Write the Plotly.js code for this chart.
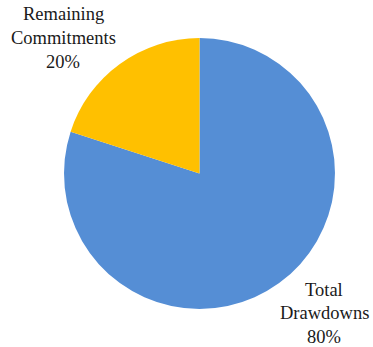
<!DOCTYPE html>
<html>
<head>
<meta charset="utf-8">
<script src="https://cdn.plot.ly/plotly-3.0.1.min.js"></script>
<style>html,body{margin:0;padding:0;background:#fff;}#chart{width:373px;height:347px;}</style>
</head>
<body>
<div id="chart"></div>
<script>
const categories = ["Total Drawdowns", "Remaining Commitments"];
const values = [80, 20];
const colors = ["#558ED5", "#FFC000"];

const W = 373, H = 347;
// label block centers (pixels) for each category
const labelPos = [
  {x: 324, ys: [290, 313, 337]},
  {x: 63, ys: [14, 38, 62]}
];
const total = values.reduce((a, b) => a + b, 0);
const annotations = [];
categories.forEach((c, i) => {
  const lines = c.split(" ").concat([Math.round(values[i] / total * 100) + "%"]);
  lines.forEach((t, k) => {
    annotations.push({
      text: t, showarrow: false, xref: "paper", yref: "paper",
      x: labelPos[i].x / W, y: 1 - labelPos[i].ys[k] / H,
      xanchor: "center", yanchor: "middle",
      font: {family: "Liberation Serif", size: 18.5, color: "#1a1a1a"}
    });
  });
});

const data = [{
  type: "pie",
  labels: categories,
  values: values,
  sort: false,
  direction: "clockwise",
  rotation: 0,
  textinfo: "none",
  hoverinfo: "none",
  marker: {colors: colors, line: {width: 0}},
  domain: {x: [64 / W, 335 / W], y: [1 - 309 / H, 1 - 38 / H]}
}];

const layout = {
  width: W, height: H,
  margin: {l: 0, r: 0, t: 0, b: 0},
  showlegend: false,
  paper_bgcolor: "#ffffff",
  annotations: annotations
};

Plotly.newPlot("chart", data, layout, {displayModeBar: false, staticPlot: true});
</script>
</body>
</html>
